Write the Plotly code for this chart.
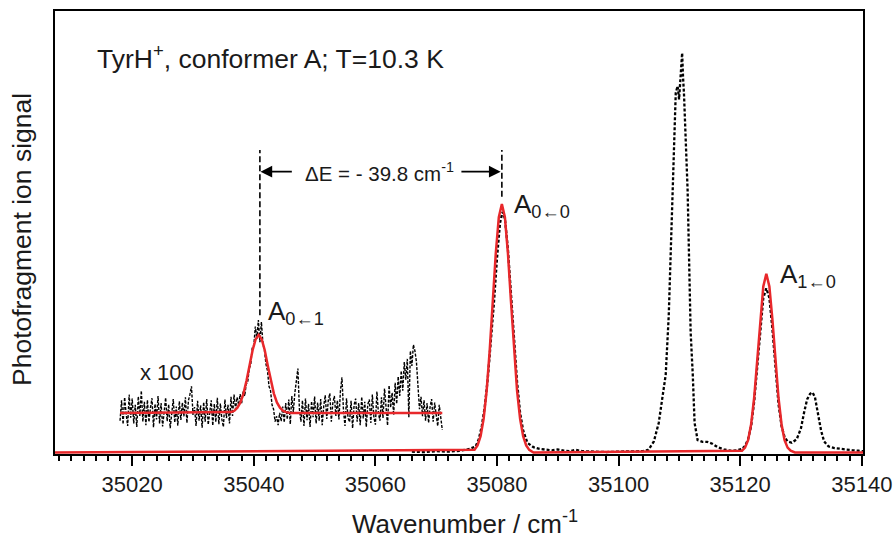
import numpy as np
import plotly.graph_objects as go

# ---------------- data ----------------
# main (x1) spectrum, black dashed
main_x = [35066, 35068, 35070, 35072, 35074, 35075.5, 35076.5, 35077, 35077.5, 35078,
          35078.5, 35079, 35079.5, 35080, 35080.5, 35080.9, 35081.3, 35081.8, 35082.3, 35082.8,
          35083.3, 35083.8, 35084.3, 35085, 35086, 35087, 35088, 35089, 35090, 35091,
          35092, 35093, 35094, 35096, 35098, 35100, 35102, 35104, 35104.9, 35105.8,
          35106.6, 35107.2, 35107.75, 35108.25, 35108.55, 35108.9, 35109.4, 35109.7, 35109.95, 35110.2,
          35110.45, 35110.6, 35110.75, 35111.35, 35111.55, 35111.7, 35111.85, 35112.2, 35112.5, 35113.0,
          35113.8, 35114.6, 35115.4, 35116.3, 35117.3, 35118.4, 35119.5, 35120.3, 35120.8, 35121.3,
          35121.8, 35122.3, 35122.8, 35123.3, 35123.8, 35124.3, 35124.8, 35125.3, 35125.8, 35126.3,
          35126.8, 35127.3, 35127.8, 35128.5, 35129.3, 35130, 35130.5, 35131, 35131.5, 35131.9,
          35132.3, 35132.8, 35133.3, 35133.8, 35134.5, 35135.5, 35136.5, 35137.5, 35138.5, 35139.5,
          35140.2]
main_y = [0.002, 0.001, 0.003, 0.002, 0.004, 0.008, 0.014, 0.03, 0.06, 0.105,
          0.17, 0.25, 0.34, 0.44, 0.52, 0.545, 0.53, 0.46, 0.36, 0.25,
          0.16, 0.09, 0.05, 0.022, 0.012, 0.008, 0.006, 0.005, 0.007, 0.004,
          0.003, 0.006, 0.003, 0.002, 0.001, 0.002, 0.003, 0.003, 0.006, 0.025,
          0.067, 0.12, 0.176, 0.311, 0.459, 0.595, 0.814, 0.83, 0.80, 0.86,
          0.905, 0.85, 0.814, 0.595, 0.459, 0.311, 0.273, 0.176, 0.067, 0.028,
          0.024, 0.024, 0.020, 0.012, 0.007, 0.004, 0.005, 0.008, 0.015, 0.03,
          0.06, 0.115, 0.195, 0.285, 0.35, 0.372, 0.35, 0.28, 0.19, 0.11,
          0.06, 0.035, 0.025, 0.022, 0.03, 0.055, 0.09, 0.12, 0.133, 0.136,
          0.125, 0.09, 0.05, 0.025, 0.014, 0.01, 0.008, 0.007, 0.005, 0.004,
          0.003]

# main fit, red
fit_x = [35007.3, 35076.3, 35076.8, 35077.3, 35077.8, 35078.3, 35078.8, 35079.3, 35079.8, 35080.3,
         35080.8, 35081.3, 35081.8, 35082.3, 35082.8, 35083.3, 35083.8, 35084.3, 35084.8, 35085.3,
         35086.0, 35120.3, 35120.8, 35121.3, 35121.8, 35122.3, 35122.8, 35123.3, 35123.8, 35124.3,
         35124.8, 35125.3, 35125.8, 35126.3, 35126.8, 35127.3, 35127.8, 35128.3, 35129.0, 35140.2]
fit_y = [0.0, 0.006, 0.016, 0.037, 0.076, 0.140, 0.231, 0.342, 0.451, 0.533,
         0.563, 0.533, 0.451, 0.342, 0.231, 0.140, 0.076, 0.037, 0.016, 0.006,
         0.0, 0.004, 0.011, 0.028, 0.064, 0.124, 0.208, 0.301, 0.376, 0.405,
         0.376, 0.301, 0.208, 0.124, 0.064, 0.028, 0.011, 0.004, 0.0, 0.0]

# x100 inset: noisy data (start 35018, step 0.25)
inset_x0 = 35018.0
inset_step = 0.25
inset_y = [
    0.072, 0.118, 0.064, 0.125, 0.088, 0.060, 0.131, 0.079, 0.122, 0.066,
    0.108, 0.058, 0.127, 0.083, 0.140, 0.070, 0.115, 0.062, 0.119, 0.069,
    0.101, 0.123, 0.057, 0.110, 0.075, 0.128, 0.066, 0.112, 0.059, 0.097,
    0.124, 0.071, 0.109, 0.055, 0.093, 0.121, 0.068, 0.104, 0.061, 0.116,
    0.074, 0.113, 0.082, 0.125, 0.067, 0.118, 0.132, 0.150, 0.085, 0.103,
    0.060, 0.117, 0.072, 0.107, 0.056, 0.114, 0.070, 0.121, 0.063, 0.099,
    0.118, 0.061, 0.110, 0.069, 0.124, 0.064, 0.111, 0.075, 0.058, 0.120,
    0.078, 0.108, 0.066, 0.126, 0.083, 0.131,
    0.098, 0.125, 0.108, 0.132, 0.112, 0.138, 0.128, 0.155, 0.160, 0.190,
    0.200, 0.238, 0.242, 0.285, 0.258, 0.300, 0.250, 0.296, 0.246, 0.232,
    0.200, 0.185, 0.150, 0.140, 0.108, 0.098, 0.070, 0.082, 0.062, 0.090,
    0.071, 0.104,
    0.068, 0.112, 0.075, 0.120, 0.064, 0.128, 0.092, 0.135,
    0.160, 0.190, 0.098, 0.070, 0.118, 0.060, 0.122, 0.073,
    0.110, 0.058, 0.116, 0.080, 0.127, 0.066, 0.113, 0.072,
    0.121, 0.062, 0.105, 0.130, 0.076, 0.118, 0.134, 0.070,
    0.112, 0.128, 0.083, 0.118, 0.075, 0.140, 0.170, 0.095,
    0.060, 0.123, 0.078, 0.069, 0.117, 0.055, 0.108, 0.122,
    0.070, 0.112, 0.062, 0.126, 0.077, 0.115, 0.058, 0.109,
    0.120, 0.067, 0.131, 0.080, 0.063, 0.138, 0.088, 0.072,
    0.125, 0.078, 0.145, 0.090, 0.061, 0.152, 0.102, 0.135,
    0.085, 0.158, 0.110, 0.172, 0.128, 0.185, 0.140, 0.205,
    0.165, 0.212, 0.080, 0.230, 0.196, 0.244, 0.230, 0.205,
    0.140, 0.098, 0.126, 0.082, 0.118, 0.072, 0.112, 0.067,
    0.104, 0.121, 0.070, 0.113, 0.085, 0.060, 0.108, 0.074, 0.051]
inset_x = inset_x0 + inset_step * np.arange(len(inset_y))

# x100 inset fit, red
inset_fit_x = [35018.0, 35036.3, 35036.8, 35037.3, 35037.8, 35038.3, 35038.8, 35039.3, 35039.8, 35040.3,
               35040.8, 35041.3, 35041.8, 35042.3, 35042.8, 35043.3, 35043.8, 35044.3, 35044.8, 35045.3,
               35046.0, 35071.0]
inset_fit_y = [0.0895, 0.0915, 0.0945, 0.1015, 0.1135, 0.1335, 0.1625, 0.1965, 0.2315, 0.2565,
               0.2665, 0.2565, 0.2315, 0.1965, 0.1625, 0.1335, 0.1135, 0.1015, 0.0945, 0.0915,
               0.0895, 0.0895]

x_ticks = [35020, 35040, 35060, 35080, 35100, 35120, 35140]

# ---------------- figure ----------------
FONT = "Liberation Sans, Arial, Helvetica, sans-serif"
RED = "#e8282b"
TXT = "#1a1a1a"

fig = go.Figure()
fig.add_trace(go.Scatter(x=main_x, y=main_y, mode="lines",
                         line=dict(color="black", width=2.3, dash="3px,2px")))
fig.add_trace(go.Scatter(x=inset_x, y=inset_y, mode="lines",
                         line=dict(color="black", width=1.4, dash="3px,1.5px")))
fig.add_trace(go.Scatter(x=fit_x, y=fit_y, mode="lines",
                         line=dict(color=RED, width=2.5)))
fig.add_trace(go.Scatter(x=inset_fit_x, y=inset_fit_y, mode="lines",
                         line=dict(color=RED, width=2.5)))

# dashed markers for the energy gap
fig.add_shape(type="line", xref="x", yref="y", x0=35041.0, x1=35041.0, y0=0.311, y1=0.685,
              line=dict(color="black", width=1.6, dash="6px,3px"))
fig.add_shape(type="line", xref="x", yref="y", x0=35080.8, x1=35080.8, y0=0.579, y1=0.685,
              line=dict(color="black", width=1.6, dash="6px,3px"))

ann = []
# arrows
ann.append(dict(x=35041.1, y=0.636, ax=35046.5, ay=0.636, xref="x", yref="y", axref="x", ayref="y",
                text="", showarrow=True, arrowhead=2, arrowsize=1.3, arrowwidth=1.8, arrowcolor="black"))
ann.append(dict(x=35080.6, y=0.636, ax=35073.9, ay=0.636, xref="x", yref="y", axref="x", ayref="y",
                text="", showarrow=True, arrowhead=2, arrowsize=1.3, arrowwidth=1.8, arrowcolor="black"))
ann.append(dict(x=(379 - 55) / 808, y=(454 - 172) / 443, xref="paper", yref="paper", showarrow=False,
                text="ΔE = - 39.8 cm<sup>-1</sup>", font=dict(size=20.5, family=FONT, color=TXT),
                xanchor="center", yanchor="middle"))
# title text
ann.append(dict(x=(95 - 55) / 808, y=(454 - 57) / 443, xref="paper", yref="paper", showarrow=False,
                text="TyrH<sup>+</sup>, conformer A; T=10.3 K", font=dict(size=26.5, family=FONT, color=TXT),
                xanchor="left", yanchor="middle"))
# peak labels
ann.append(dict(x=(512 - 55) / 808, y=(454 - 205) / 443, xref="paper", yref="paper", showarrow=False,
                text="A<sub>0←0</sub>", font=dict(size=26, family=FONT, color=TXT),
                xanchor="left", yanchor="middle"))
ann.append(dict(x=(266 - 55) / 808, y=(454 - 312) / 443, xref="paper", yref="paper", showarrow=False,
                text="A<sub>0←1</sub>", font=dict(size=26, family=FONT, color=TXT),
                xanchor="left", yanchor="middle"))
ann.append(dict(x=(778 - 55) / 808, y=(454 - 275) / 443, xref="paper", yref="paper", showarrow=False,
                text="A<sub>1←0</sub>", font=dict(size=26, family=FONT, color=TXT),
                xanchor="left", yanchor="middle"))
ann.append(dict(x=(167 - 55) / 808, y=(454 - 372) / 443, xref="paper", yref="paper", showarrow=False,
                text="x 100", font=dict(size=22, family=FONT, color=TXT),
                xanchor="center", yanchor="middle"))
# axis titles
ann.append(dict(x=(22 - 55) / 808, y=(454 - 240) / 443, xref="paper", yref="paper", showarrow=False,
                text="Photofragment ion signal", textangle=-90, font=dict(size=26.5, family=FONT, color=TXT),
                xanchor="center", yanchor="middle"))
ann.append(dict(x=(465 - 55) / 808, y=(454 - 522) / 443, xref="paper", yref="paper", showarrow=False,
                text="Wavenumber / cm<sup>-1</sup>", font=dict(size=26, family=FONT, color=TXT),
                xanchor="center", yanchor="middle"))

fig.update_layout(
    width=894, height=544,
    margin=dict(l=55, r=31, t=11, b=90, autoexpand=False),
    paper_bgcolor="white", plot_bgcolor="white",
    showlegend=False,
    annotations=ann,
    font=dict(family=FONT, color=TXT),
)
fig.update_xaxes(range=[35007.3, 35140.2], showgrid=False, zeroline=False, automargin=False,
                 showline=True, linecolor="black", linewidth=2, mirror=True,
                 ticks="outside", ticklen=10, tickwidth=1.8, tickcolor="black",
                 tickvals=x_ticks, ticktext=[str(v) for v in x_ticks],
                 tickfont=dict(size=22, family=FONT, color=TXT),
                 minor=dict(ticks="outside", ticklen=5, tickwidth=1.5, tickcolor="black",
                            dtick=2, tick0=35020, showgrid=False))
fig.update_yaxes(range=[-0.0034, 1.0], showgrid=False, zeroline=False, automargin=False,
                 showline=True, linecolor="black", linewidth=2, mirror=True,
                 showticklabels=False, ticks="")

fig.write_html("out.html")
